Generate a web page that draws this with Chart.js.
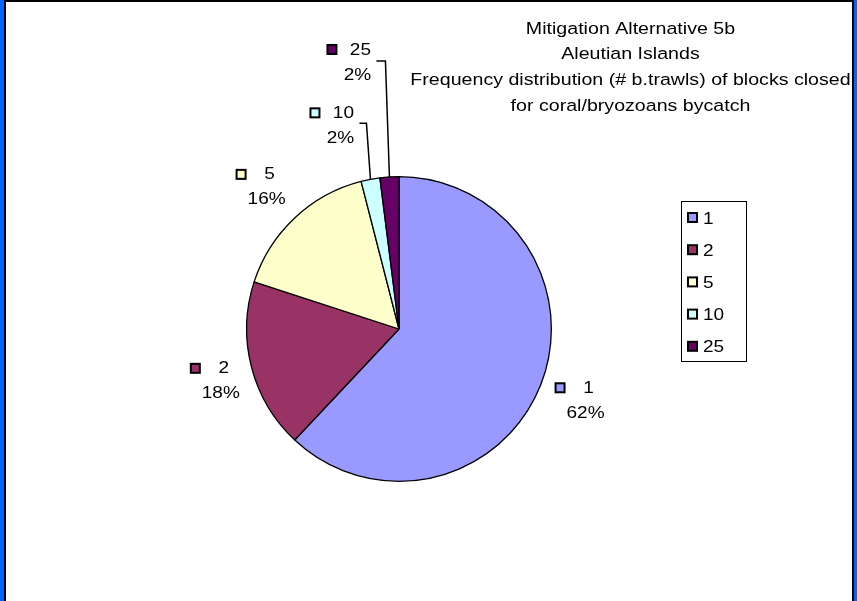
<!DOCTYPE html>
<html>
<head>
<meta charset="utf-8">
<script src="https://cdn.jsdelivr.net/npm/chart.js@4.4.1/dist/chart.umd.min.js"></script>
<style>
  html, body { margin: 0; padding: 0; background: #fff; }
  #wrap { width: 857px; height: 601px; position: relative; }
  canvas { display: block; }
</style>
</head>
<body>
<div id="wrap"><canvas id="c" width="857" height="601"></canvas></div>
<script>
const categories = ['1', '2', '5', '10', '25'];
const percentValues = [62, 18, 16, 2, 2];
const sliceColors = ['#9999FF', '#993366', '#FFFFCC', '#CCFFFF', '#660066'];
const titleLines = [
  'Mitigation Alternative 5b',
  'Aleutian Islands',
  'Frequency distribution (# b.trawls) of blocks closed',
  'for coral/bryozoans bycatch'
];

const FONT = '16.7px "Liberation Sans", Arial, sans-serif';

function text(ctx, t, x, y, align, stretch) {
  ctx.save();
  ctx.font = FONT;
  ctx.fillStyle = '#000';
  ctx.textAlign = align || 'center';
  ctx.textBaseline = 'middle';
  ctx.translate(x, y);
  ctx.scale(stretch || 1.14, 1);
  ctx.fillText(t, 0, 0);
  ctx.restore();
}

function marker(ctx, x, y, color) {
  ctx.fillStyle = color;
  ctx.fillRect(x, y, 9, 9);
  ctx.strokeStyle = '#000';
  ctx.lineWidth = 2;
  ctx.strokeRect(x, y, 9, 9);
}

// small layout nudges for label blocks (pixels)
const labelNudge = [[1, -1], [9, 3], [-1, 1], [0, 0], [-2, -1]];

const decorPlugin = {
  id: 'decor',
  afterDraw(chart) {
    const ctx = chart.ctx;
    ctx.save();
    // frame
    ctx.fillStyle = '#0066FF';
    ctx.fillRect(0, 0, 4, 601);
    ctx.fillRect(854, 0, 3, 601);
    ctx.fillStyle = '#000';
    ctx.fillRect(4, 0, 2, 601);
    ctx.fillRect(852, 0, 2, 601);
    ctx.fillRect(4, 0, 850, 2);

    // title
    titleLines.forEach((t, i) => text(ctx, t, 630.5, 29 + i * 25.7, 'center', 1.175));

    // legend
    ctx.strokeStyle = '#000';
    ctx.lineWidth = 1;
    ctx.strokeRect(681.5, 201.5, 65, 160);
    categories.forEach((c, i) => {
      const y = 218 + i * 32.2;
      marker(ctx, 688, y - 5, sliceColors[i]);
      text(ctx, c, 703, y + 1, 'left');
    });

    // data labels
    const meta = chart.getDatasetMeta(0);
    meta.data.forEach((arc, i) => {
      const p = arc.getProps(['x', 'y', 'startAngle', 'endAngle', 'outerRadius'], true);
      const mid = (p.startAngle + p.endAngle) / 2;
      let lx, ly;
      const pct = percentValues[i] + '%';
      if (percentValues[i] >= 5) {
        const d = p.outerRadius + 44;
        lx = p.x + Math.cos(mid) * d;
        ly = p.y + Math.sin(mid) * d;
      } else {
        const ex = p.x + Math.cos(mid) * p.outerRadius;
        const ey = p.y + Math.sin(mid) * p.outerRadius;
        const rise = i === 3 ? 56 : 116;
        const hx = ex - 4;
        const hy = ey - rise;
        ctx.strokeStyle = '#000';
        ctx.lineWidth = 1.5;
        ctx.beginPath();
        ctx.moveTo(ex, ey);
        ctx.lineTo(hx, hy);
        ctx.lineTo(hx - (i === 3 ? 7 : 9), hy);
        ctx.stroke();
        lx = hx - 29;
        ly = hy + 2;
      }
      lx += labelNudge[i][0];
      ly += labelNudge[i][1];
      marker(ctx, lx - 27, ly - 17, sliceColors[i]);
      text(ctx, categories[i], lx + 6, ly - 12, 'center');
      text(ctx, pct, lx + 3, ly + 13, 'center');
    });
    ctx.restore();
  }
};

new Chart(document.getElementById('c'), {
  type: 'pie',
  data: {
    labels: categories,
    datasets: [{
      data: percentValues,
      backgroundColor: sliceColors,
      borderColor: '#000',
      borderWidth: 1.3
    }]
  },
  options: {
    responsive: false,
    animation: false,
    events: [],
    layout: { padding: { left: 246, right: 305, top: 176, bottom: 119 } },
    plugins: {
      legend: { display: false },
      title: { display: false },
      tooltip: { enabled: false }
    }
  },
  plugins: [decorPlugin]
});
</script>
</body>
</html>
